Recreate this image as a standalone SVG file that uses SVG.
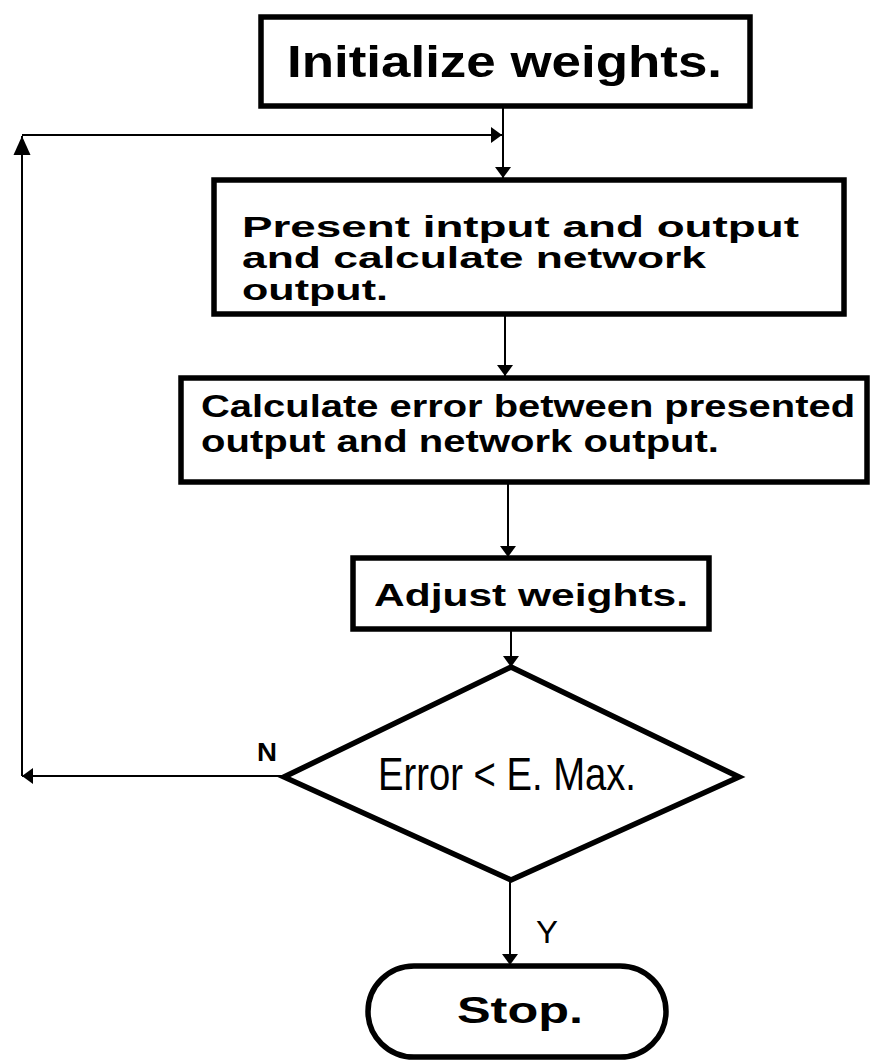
<svg xmlns="http://www.w3.org/2000/svg" width="871" height="1063" viewBox="0 0 871 1063">
<style>
.box{fill:#fff;stroke:#000;stroke-width:5.5;stroke-linejoin:miter}
.con{fill:none;stroke:#000;stroke-width:2}
.t{font-family:"Liberation Sans",Arial,sans-serif;fill:#000}
.b{font-weight:bold}
</style>
<defs>
<marker id="arr" markerUnits="userSpaceOnUse" markerWidth="12" markerHeight="18" refX="11" refY="8" orient="auto" viewBox="0 0 12 16">
<path d="M0,0 L11,8 L0,16 z" fill="#000"/>
</marker>
<marker id="arrBig" markerUnits="userSpaceOnUse" markerWidth="20" markerHeight="18" refX="19" refY="8.5" orient="auto" viewBox="0 0 20 17">
<path d="M0,0 L19,8.5 L0,17 z" fill="#000"/>
</marker>
</defs>
<rect width="871" height="1063" fill="#fff"/>
<g id="connectors">
<line class="con" x1="503" y1="107" x2="503" y2="178" marker-end="url(#arr)"/>
<line class="con" x1="22" y1="135" x2="502" y2="135" marker-end="url(#arr)"/>
<line class="con" x1="22" y1="776" x2="22" y2="136" marker-end="url(#arrBig)"/>
<line class="con" x1="285" y1="776" x2="22" y2="776" marker-end="url(#arr)"/>
<line class="con" x1="505" y1="315" x2="505" y2="376" marker-end="url(#arr)"/>
<line class="con" x1="508" y1="483" x2="508" y2="557" marker-end="url(#arr)"/>
<line class="con" x1="511" y1="630" x2="511" y2="667" marker-end="url(#arr)"/>
<line class="con" x1="510" y1="880" x2="510" y2="965" marker-end="url(#arr)"/>
</g>
<g id="init">
<rect class="box" x="261" y="17" width="489" height="89"/>
<text class="t b" x="287" y="77" font-size="44" textLength="435" lengthAdjust="spacingAndGlyphs">Initialize weights.</text>
</g>
<g id="present">
<rect class="box" x="214" y="180" width="630" height="134"/>
<text class="t b" x="242" y="237" font-size="30" textLength="557" lengthAdjust="spacingAndGlyphs">Present intput and output</text>
<text class="t b" x="242" y="268" font-size="30" textLength="464" lengthAdjust="spacingAndGlyphs">and calculate network</text>
<text class="t b" x="242" y="300" font-size="30" textLength="146" lengthAdjust="spacingAndGlyphs">output.</text>
</g>
<g id="calcerr">
<rect class="box" x="181" y="378" width="686" height="104"/>
<text class="t b" x="201" y="417" font-size="31" textLength="654" lengthAdjust="spacingAndGlyphs">Calculate error between presented</text>
<text class="t b" x="201" y="452" font-size="31" textLength="518" lengthAdjust="spacingAndGlyphs">output and network output.</text>
</g>
<g id="adjust">
<rect class="box" x="353" y="558" width="356" height="71"/>
<text class="t b" x="374" y="606" font-size="31" textLength="314" lengthAdjust="spacingAndGlyphs">Adjust weights.</text>
</g>
<g id="decision">
<polygon class="box" points="511,667 739,777 511,880 284,777"/>
<text class="t" x="378" y="790" font-size="46" textLength="258" lengthAdjust="spacingAndGlyphs">Error &lt; E. Max.</text>
</g>
<g id="labels">
<text class="t b" x="257" y="761" font-size="26" textLength="20" lengthAdjust="spacingAndGlyphs">N</text>
<text class="t" x="536" y="943" font-size="31" textLength="22" lengthAdjust="spacingAndGlyphs">Y</text>
</g>
<g id="stop">
<rect class="box" x="368" y="966" width="298" height="91" rx="46" ry="46"/>
<text class="t b" x="457" y="1023" font-size="37" textLength="126" lengthAdjust="spacingAndGlyphs">Stop.</text>
</g>
</svg>
